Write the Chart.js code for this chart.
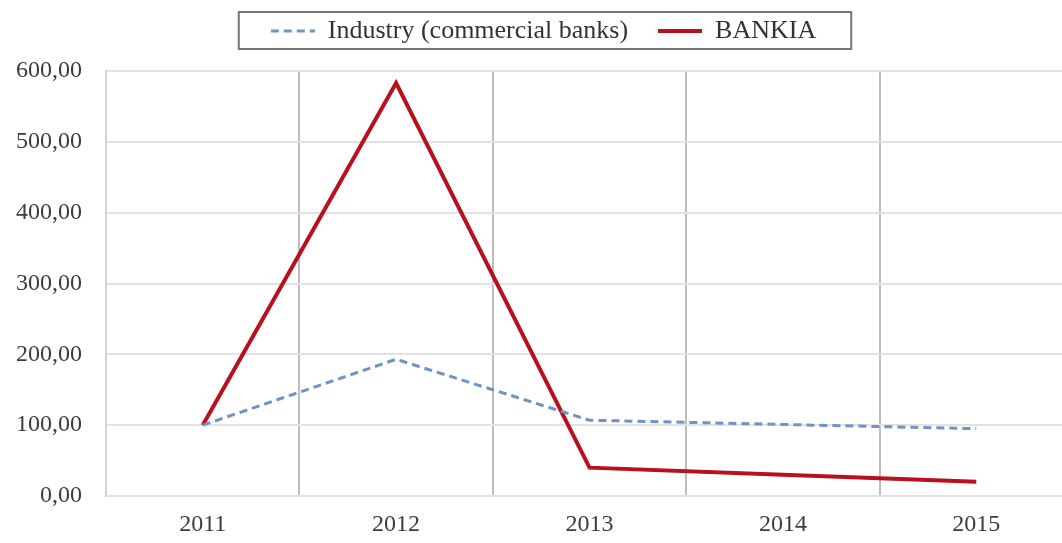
<!DOCTYPE html>
<html>
<head>
<meta charset="utf-8">
<script src="https://cdn.jsdelivr.net/npm/chart.js@4"></script>
<style>
  html, body { margin: 0; padding: 0; background: #ffffff; overflow: hidden; }
  #wrap { width: 1073px; height: 543px; position: relative; }
</style>
</head>
<body>
<div id="wrap"><canvas id="chart"></canvas></div>
<script>
// ---------- DATA ----------
const years = ["2011", "2012", "2013", "2014", "2015"];
const industry = [100, 193, 107, 101, 95];
const bankia = [100, 583, 40, 30, 20];
const yTicks = [0, 100, 200, 300, 400, 500, 600];

const BLUE = "#6f93c6";
const RED = "#b8101c";

// small legend glyphs (dashed / solid line)
function legendGlyph(color, width, dash) {
    const c = document.createElement("canvas");
    c.width = 44;
    c.height = 8;
    const g = c.getContext("2d");
    g.strokeStyle = color;
    g.lineWidth = width;
    g.setLineDash(dash);
    g.beginPath();
    g.moveTo(0, 4);
    g.lineTo(44, 4);
    g.stroke();
    return c;
}

// legend spacing + frame
const legendBox = {
    id: "legendBox",
    beforeInit(chart) {
        const lg = chart.legend;
        if (!lg) return;
        const fit = lg.fit;
        lg.fit = function () {
            fit.call(this);
            this.height = 83;
        };
    },
    afterDraw(chart) {
        const boxes = chart.legend.legendHitBoxes;
        if (!boxes || !boxes.length) return;
        let l = Infinity, r = -Infinity, t = Infinity, b = -Infinity;
        boxes.forEach(h => {
            l = Math.min(l, h.left);
            r = Math.max(r, h.left + h.width);
            t = Math.min(t, h.top);
            b = Math.max(b, h.top + h.height);
        });
        const ctx = chart.ctx;
        ctx.save();
        ctx.strokeStyle = "#777777";
        ctx.lineWidth = 2;
        ctx.strokeRect(l - 32, t - 6, (r - l) + 67, (b - t) + 11);
        ctx.restore();
    }
};

new Chart(document.getElementById("chart"), {
    type: "line",
    data: {
        labels: years,
        datasets: [
            {
                label: "Industry (commercial banks)",
                data: industry,
                borderColor: BLUE,
                borderWidth: 3,
                borderDash: [8, 5],
                pointRadius: 0,
                pointStyle: legendGlyph(BLUE, 3, [8, 5]),
                tension: 0,
                fill: false
            },
            {
                label: "BANKIA",
                data: bankia,
                borderColor: RED,
                borderWidth: 4,
                pointRadius: 0,
                pointStyle: legendGlyph(RED, 4, []),
                tension: 0,
                fill: false
            }
        ]
    },
    options: {
        responsive: true,
        maintainAspectRatio: false,
        animation: false,
        layout: { padding: { top: -12, left: 14, right: 0, bottom: 0 } },
        plugins: {
            tooltip: { enabled: false },
            legend: {
                display: true,
                position: "top",
                labels: {
                    usePointStyle: true,
                    pointStyleWidth: 44,
                    color: "#333333",
                    font: { family: "Liberation Serif", size: 26 },
                    padding: 30
                }
            }
        },
        scales: {
            x: {
                offset: true,
                grid: {
                    offset: true,
                    color: "#bdbdbd",
                    lineWidth: 2,
                    drawTicks: false
                },
                border: { display: false },
                ticks: {
                    color: "#3c3c3c",
                    font: { family: "Liberation Serif", size: 24 },
                    padding: 14
                },
                afterFit: s => { s.height = 47; }
            },
            y: {
                min: 0,
                max: 600,
                afterBuildTicks: s => { s.ticks = yTicks.map(v => ({ value: v })); },
                grid: {
                    color: "#e2e2e2",
                    lineWidth: 2,
                    drawTicks: false
                },
                border: { display: true, color: "#d4d4d4", width: 2 },
                ticks: {
                    color: "#3c3c3c",
                    font: { family: "Liberation Serif", size: 24 },
                    padding: 24,
                    callback: v => v.toFixed(2).replace(".", ",")
                },
                afterFit: s => { s.width = 92; }
            }
        }
    },
    plugins: [legendBox]
});
</script>
</body>
</html>
